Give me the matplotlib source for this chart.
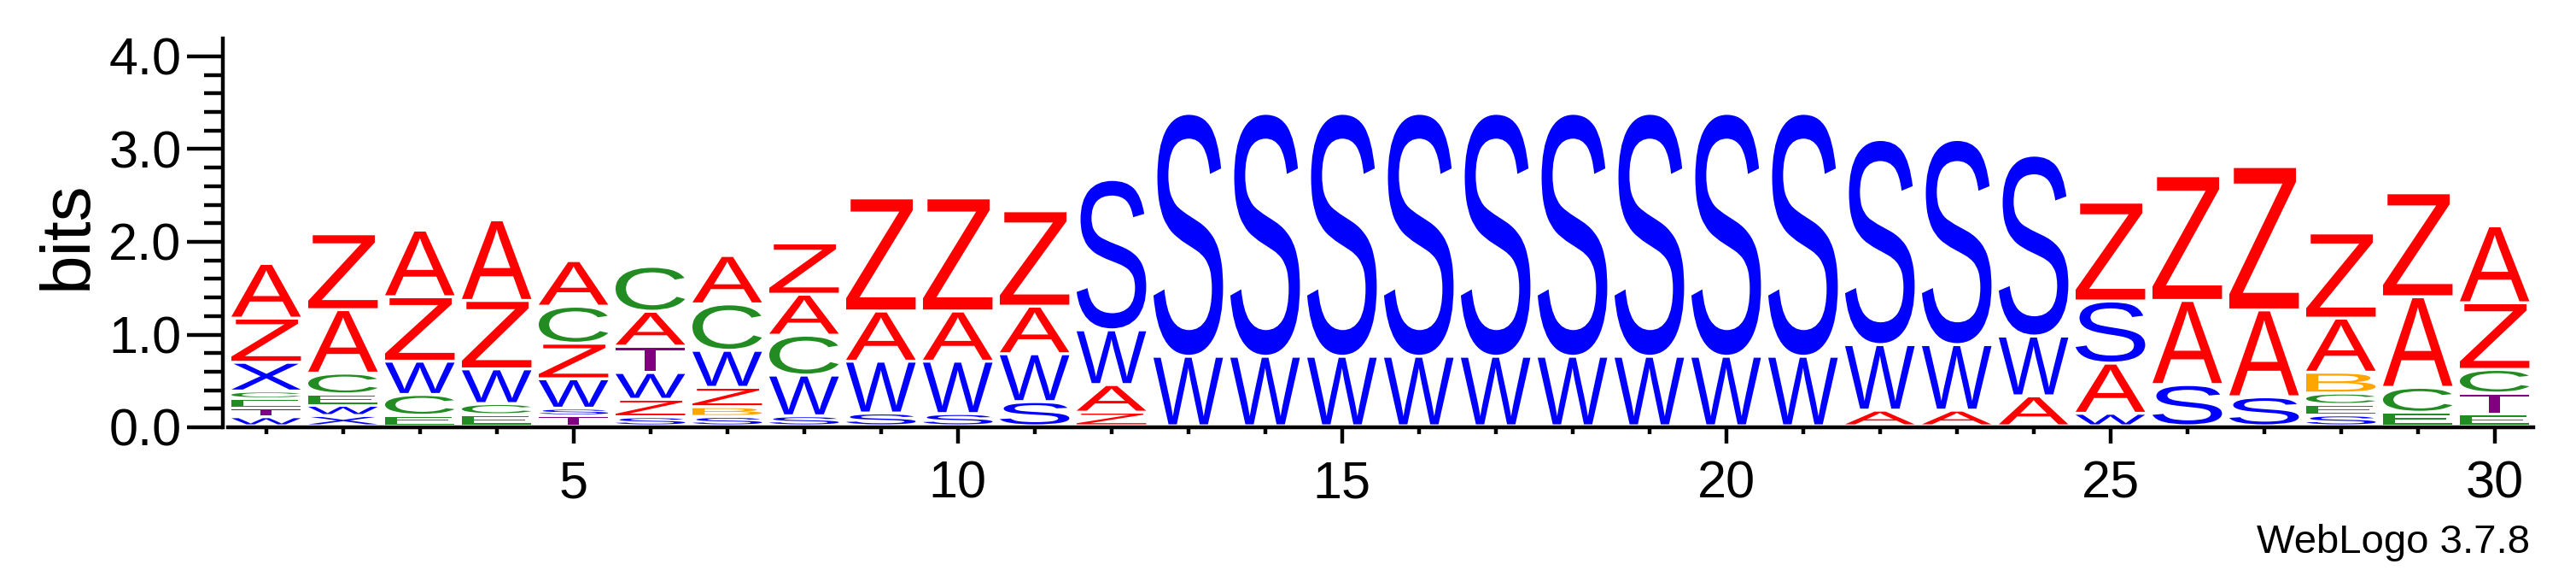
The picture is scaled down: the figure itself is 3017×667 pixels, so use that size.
import matplotlib
matplotlib.use("Agg")
import matplotlib.pyplot as plt
from matplotlib.textpath import TextPath
from matplotlib.font_manager import FontProperties
from matplotlib.patches import PathPatch
from matplotlib.transforms import Affine2D
from matplotlib.ticker import MultipleLocator

# ---------------- data (stacks listed bottom -> top, heights in bits) ----------------
positions = list(range(1, 31))

stack_letters = [
    "WTECXZA",   # 1
    "XWECAZ",    # 2
    "ECWZA",     # 3
    "ECWZA",     # 4
    "TSWZCA",    # 5
    "SZWTAC",    # 6
    "SBZWCA",    # 7
    "SWCAZ",     # 8
    "SWAZ",      # 9
    "SWAZ",      # 10
    "SWAZ",      # 11
    "ZAWS",      # 12
    "WS", "WS", "WS", "WS", "WS", "WS", "WS", "WS", "WS",  # 13-21
    "AWS",       # 22
    "AWS",       # 23
    "AWS",       # 24
    "WASZ",      # 25
    "SAZ",       # 26
    "SAZ",       # 27
    "SECBAZ",    # 28
    "ECAZ",      # 29
    "ETCZA",     # 30
]

stack_heights = [
    [0.098, 0.092, 0.102, 0.083, 0.310, 0.476, 0.590],
    [0.111, 0.110, 0.123, 0.224, 0.685, 0.818],
    [0.114, 0.224, 0.359, 0.695, 0.719],
    [0.120, 0.120, 0.374, 0.738, 0.870],
    [0.108, 0.082, 0.317, 0.384, 0.399, 0.492],
    [0.098, 0.188, 0.289, 0.285, 0.375, 0.485],
    [0.101, 0.105, 0.209, 0.399, 0.501, 0.522],
    [0.108, 0.439, 0.430, 0.442, 0.553],
    [0.138, 0.559, 0.541, 1.220],
    [0.132, 0.565, 0.541, 1.220],
    [0.261, 0.516, 0.513, 1.029],
    [0.147, 0.298, 0.590, 1.622],
    [0.750, 2.620], [0.750, 2.620], [0.750, 2.620],
    [0.750, 2.620], [0.750, 2.620], [0.750, 2.620],
    [0.750, 2.620], [0.750, 2.620], [0.750, 2.620],
    [0.169, 0.707, 2.212],
    [0.169, 0.707, 2.212],
    [0.323, 0.645, 1.951],
    [0.135, 0.541, 0.670, 1.066],
    [0.445, 0.907, 1.345],
    [0.313, 0.937, 1.546],
    [0.117, 0.113, 0.123, 0.225, 0.583, 0.919],
    [0.146, 0.269, 0.977, 1.121],
    [0.125, 0.228, 0.255, 0.719, 0.830],
]

letter_colors = {
    "A": "#FF0000", "Z": "#FF0000",
    "W": "#0000FF", "X": "#0000FF", "S": "#0000FF",
    "C": "#228B22", "E": "#228B22",
    "T": "#800080",
    "B": "#FFA500",
}

x_tick_labels = ["5", "10", "15", "20", "25", "30"]
y_tick_labels = ["0.0", "1.0", "2.0", "3.0", "4.0"]

# ---------------- figure ----------------
W_PX, H_PX, DPI = 3017, 667, 100
fig = plt.figure(figsize=(W_PX / DPI, H_PX / DPI), dpi=DPI)
plt.rcParams["font.family"] = ["Liberation Sans", "DejaVu Sans"]

ymax = 4.19
ax = fig.add_axes([266.7 / W_PX, 167 / H_PX, 2700 / W_PX, (ymax * 108.5) / H_PX])
ax.set_xlim(0.5, 30.5)
ax.set_ylim(0, ymax)

fp = FontProperties(family="Liberation Sans")
letter_width = 0.905
gap = 0.032


def draw_letter(ch, xc, y0, h, color):
    tp = TextPath((0, 0), ch, size=1, prop=fp)
    bb = tp.get_extents()
    hh = max(h - gap, 0.004)
    tr = (Affine2D()
          .translate(-bb.x0, -bb.y0)
          .scale(letter_width / bb.width, hh / bb.height)
          .translate(xc - letter_width / 2, y0 + gap))
    ax.add_patch(PathPatch(tr.transform_path(tp), facecolor=color,
                           edgecolor="none", lw=0))


for pos, letters, heights in zip(positions, stack_letters, stack_heights):
    y = 0.0
    for ch, h in zip(letters, heights):
        draw_letter(ch, pos, y, h, letter_colors[ch])
        y += h

# ---------------- axes styling ----------------
for s in ("top", "right"):
    ax.spines[s].set_visible(False)
ax.spines["left"].set_position(("outward", 4))
ax.spines["left"].set_linewidth(3.2)
ax.spines["bottom"].set_linewidth(3.2)

ax.set_yticks([0, 1, 2, 3, 4])
ax.set_yticklabels(y_tick_labels)
ax.yaxis.set_minor_locator(MultipleLocator(0.2))
ax.tick_params(axis="y", which="major", direction="out", length=30, width=3.2,
               labelsize=44, pad=5)
ax.tick_params(axis="y", which="minor", direction="out", length=15.5, width=3.2)

major_x = [5, 10, 15, 20, 25, 30]
ax.set_xticks(major_x)
ax.set_xticklabels(x_tick_labels)
ax.set_xticks([p for p in positions if p not in major_x], minor=True)
ax.tick_params(axis="x", which="major", direction="out", length=13.7, width=3.2,
               labelsize=44, pad=14)
ax.tick_params(axis="x", which="minor", direction="out", length=5.8, width=3.2)

fig.text(100.6 / W_PX, 1 - 275 / H_PX, "bits", rotation=90, rotation_mode="anchor",
         ha="center", va="baseline", fontsize=59)
fig.text(2963 / W_PX, 20 / H_PX, "WebLogo 3.7.8", ha="right", va="baseline",
         fontsize=34)

fig.savefig("out.png", dpi=DPI)
